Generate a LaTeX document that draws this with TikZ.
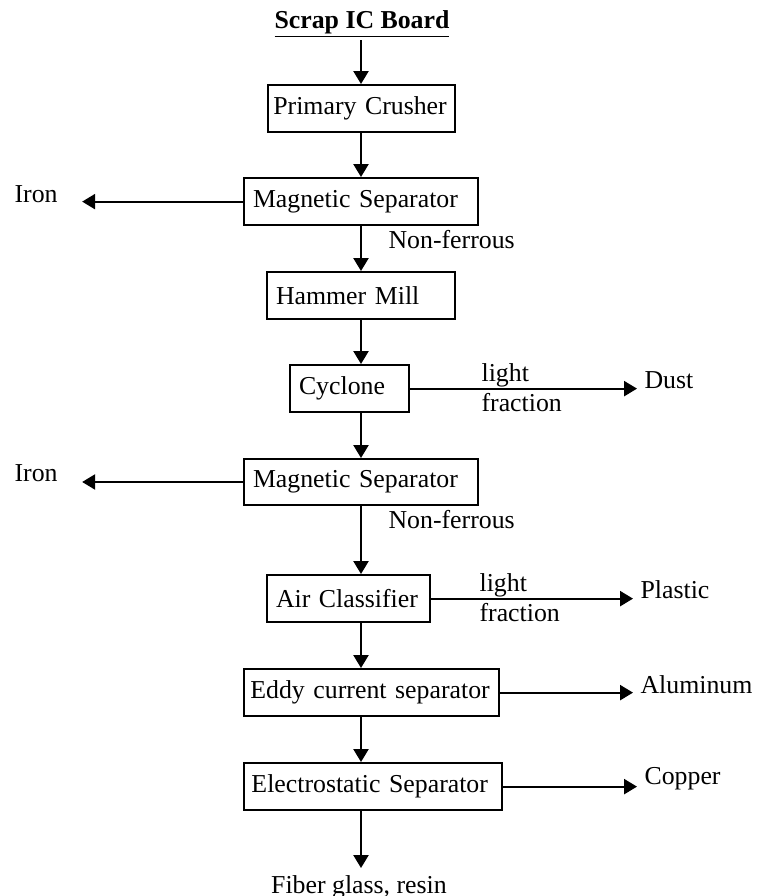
\documentclass[tikz,border=0pt]{standalone}
\usepackage{fontspec}
\setmainfont{Liberation Serif}
\usetikzlibrary{arrows.meta}

\begin{document}
\begin{tikzpicture}[x=0.465pt, y=-0.465pt, font=\fontsize{12pt}{14pt}\selectfont,
    stage/.style={draw={black}, line width=0.9pt, rectangle, anchor=north west, inner xsep=4.2pt, minimum height=22pt, align=left},
    flow/.style={line width=0.9pt, -{Triangle[length=6pt, width=7pt]}},
    sidetext/.style={anchor=west, align=left}]
\useasboundingbox (0,0) rectangle (758,896);

\node [inner ysep=1pt] (title) at (362,24) {\underline{\textbf{Scrap IC Board}}};
\coordinate (col) at (361,0);

% main line of machines
\node [stage, inner xsep=2.5pt, text width=82pt] (crusher) at (267,84) {Primary Crusher};
\node [stage, text width=100.4pt] (mag1) at (243,177) {Magnetic Separator};
\node [stage, text width=79pt] (hammer) at (266,271) {Hammer Mill};
\node [stage, text width=46.9pt] (cyclone) at (289,364) {Cyclone};
\node [stage, text width=100.4pt, minimum height=21.4pt] (mag2) at (243,458) {Magnetic Separator};
\node [stage, text width=67.4pt] (air) at (266,574) {Air Classifier};
\node [stage, inner xsep=3pt, text width=112.6pt] (eddy) at (243,668) {Eddy current separator};
\node [stage, inner xsep=3.5pt, text width=113pt] (electro) at (243,762) {Electrostatic Separator};
\node [anchor=north] (fiber) at (359,868) {Fiber glass, resin};

% products taken out on the sides
\node [sidetext] (iron1) at (7,194) {Iron};
\node [sidetext] (nonfe1) at (381,240) {Non-ferrous};
\node [sidetext] (light1) at (474,388) {light\\fraction};
\node [sidetext] (dust) at (637,380) {Dust};
\node [sidetext] (iron2) at (7,473) {Iron};
\node [sidetext] (nonfe2) at (381,520) {Non-ferrous};
\node [sidetext] (light2) at (472,598) {light\\fraction};
\node [sidetext] (plastic) at (633,590) {Plastic};
\node [sidetext] (alu) at (633,685) {Aluminum};
\node [sidetext] (copper) at (637,779) {Copper};

\draw [flow] (title.south -| col) -- (crusher.north -| col);
\draw [flow] (crusher.south -| col) -- (mag1.north -| col);
\draw [flow] (mag1.south -| col) -- (hammer.north -| col);
\draw [flow] (hammer.south -| col) -- (cyclone.north -| col);
\draw [flow] (cyclone.south -| col) -- (mag2.north -| col);
\draw [flow] (mag2.south -| col) -- (air.north -| col);
\draw [flow] (air.south -| col) -- (eddy.north -| col);
\draw [flow] (eddy.south -| col) -- (electro.north -| col);
\draw [flow] (electro.south -| col) -- (fiber.north -| col);

\draw [flow, shorten >=7.9pt] (mag1.west) -- (mag1.west -| iron1.east);
\draw [flow, shorten >=7.9pt] (mag2.west) -- (mag2.west -| iron2.east);
\draw [flow] (cyclone.east) -- (cyclone.east -| dust.west);
\draw [flow] (air.east) -- (air.east -| plastic.west);
\draw [flow] (eddy.east) -- (eddy.east -| alu.west);
\draw [flow] (electro.east) -- (electro.east -| copper.west);
\end{tikzpicture}
\end{document}
